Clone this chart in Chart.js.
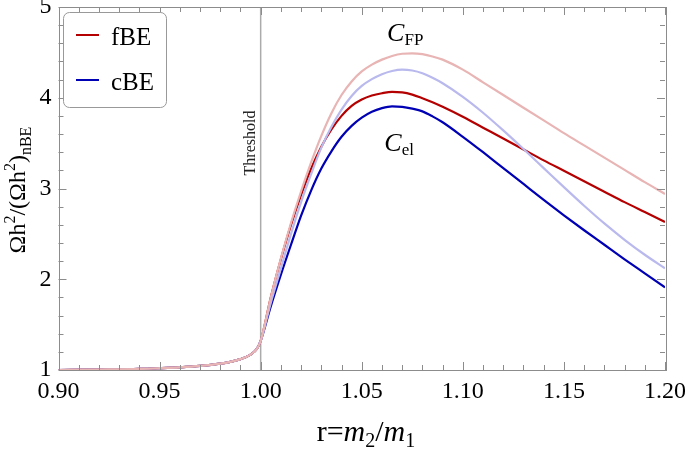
<!DOCTYPE html>
<html>
<head>
<meta charset="utf-8">
<script src="https://cdn.jsdelivr.net/npm/chart.js@4/dist/chart.umd.min.js"></script>
<style>
  html, body { margin: 0; padding: 0; background: #fff; }
  #wrap { width: 685px; height: 450px; }
</style>
</head>
<body>
<div id="wrap"><canvas id="relic"></canvas></div>
<script>
// r = m2/m1 sample points
var rVals = [0.90, 0.92, 0.94, 0.95, 0.96, 0.97, 0.98, 0.985, 0.99, 0.995, 0.998, 1.000,
  1.005, 1.01, 1.015, 1.02, 1.025, 1.03, 1.035, 1.04, 1.045, 1.05, 1.055, 1.06, 1.065,
  1.07, 1.075, 1.08, 1.085, 1.09, 1.10, 1.11, 1.12, 1.13, 1.14, 1.15, 1.16, 1.17, 1.18, 1.19, 1.20];

// below threshold all curves coincide
var belowThr = [1.00, 1.005, 1.012, 1.02, 1.03, 1.045, 1.07, 1.09, 1.12, 1.17, 1.23, 1.32];

// fBE, C_el
var fBE = belowThr.concat([1.80, 2.22, 2.60, 2.93, 3.22, 3.46, 3.65, 3.80, 3.91, 3.98, 4.025, 4.05, 4.065,
  4.06, 4.035, 3.995, 3.95, 3.90, 3.79, 3.67, 3.55, 3.43, 3.31, 3.195, 3.08, 2.965, 2.85, 2.74, 2.63]);
// cBE, C_el
var cBE = belowThr.concat([1.70, 2.05, 2.38, 2.70, 2.98, 3.22, 3.41, 3.57, 3.69, 3.78, 3.845, 3.885, 3.905,
  3.90, 3.88, 3.85, 3.795, 3.73, 3.57, 3.40, 3.225, 3.05, 2.875, 2.705, 2.54, 2.38, 2.22, 2.065, 1.91]);
// fBE, C_FP (faded)
var fBE_FP = belowThr.concat([1.80, 2.23, 2.62, 2.97, 3.29, 3.58, 3.83, 4.03, 4.18, 4.29, 4.365, 4.42, 4.46,
  4.485, 4.49, 4.48, 4.455, 4.42, 4.31, 4.17, 4.03, 3.89, 3.75, 3.61, 3.475, 3.34, 3.205, 3.07, 2.94]);
// cBE, C_FP (faded)
var cBE_FP = belowThr.concat([1.74, 2.12, 2.50, 2.85, 3.16, 3.45, 3.68, 3.87, 4.02, 4.13, 4.205, 4.26, 4.295,
  4.31, 4.30, 4.27, 4.22, 4.16, 4.01, 3.835, 3.64, 3.435, 3.225, 3.015, 2.81, 2.615, 2.435, 2.27, 2.12]);

var xTicks = [0.90, 0.95, 1.00, 1.05, 1.10, 1.15, 1.20];
var yTicks = [1, 2, 3, 4, 5];
var threshold = 1.00;

var RED = '#b40000', BLUE = '#0000b4', LRED = '#e8b4b4', LBLUE = '#b9b9ee';
var SERIF = '"Liberation Serif", "DejaVu Serif", serif';
Chart.defaults.font.family = SERIF;

function pts(ys) {
  return rVals.map(function (r, i) { return { x: r, y: ys[i] }; });
}

// draw a run of text pieces (for sub/superscripts), centred on x
function rich(ctx, parts, x, y) {
  var w = 0;
  parts.forEach(function (p) { ctx.font = p.f; w += ctx.measureText(p.t).width; });
  var cx = x - w / 2;
  ctx.textAlign = 'left';
  ctx.textBaseline = 'alphabetic';
  parts.forEach(function (p) {
    ctx.font = p.f;
    ctx.fillText(p.t, cx, y + (p.dy || 0));
    cx += ctx.measureText(p.t).width;
  });
}

var framePlugin = {
  id: 'frame',
  beforeDatasetsDraw: function (chart) {
    var ctx = chart.ctx, a = chart.chartArea;
    var xs = chart.scales.x;
    ctx.save();
    // threshold line
    var tx = xs.getPixelForValue(threshold);
    ctx.strokeStyle = '#ababab';
    ctx.lineWidth = 1.5;
    ctx.beginPath(); ctx.moveTo(tx, a.top); ctx.lineTo(tx, a.bottom); ctx.stroke();
    ctx.translate(tx - 10, 143);
    ctx.rotate(-Math.PI / 2);
    ctx.fillStyle = '#222';
    ctx.font = '16px ' + SERIF;
    ctx.textAlign = 'center';
    ctx.textBaseline = 'middle';
    ctx.fillText('Threshold', 0, 0);
    ctx.restore();
  },
  afterDatasetsDraw: function (chart) {
    var ctx = chart.ctx, a = chart.chartArea;
    var xs = chart.scales.x, ys = chart.scales.y;
    ctx.save();
    ctx.strokeStyle = '#8c8c8c';
    ctx.lineWidth = 1;
    ctx.strokeRect(Math.round(a.left) + 0.5, Math.round(a.top) + 0.5,
      Math.round(a.right - a.left), Math.round(a.bottom - a.top));
    ctx.beginPath();
    var i, v, p, len;
    for (i = 0; i <= 30; i++) {
      v = 0.90 + i * 0.01;
      p = Math.round(xs.getPixelForValue(v)) + 0.5;
      len = (i % 5 === 0) ? 8 : 5;
      ctx.moveTo(p, a.bottom); ctx.lineTo(p, a.bottom - len);
      ctx.moveTo(p, a.top); ctx.lineTo(p, a.top + len);
    }
    for (i = 0; i <= 20; i++) {
      v = 1 + i * 0.2;
      p = Math.round(ys.getPixelForValue(v)) + 0.5;
      len = (i % 5 === 0) ? 8 : 5;
      ctx.moveTo(a.left, p); ctx.lineTo(a.left + len, p);
      ctx.moveTo(a.right, p); ctx.lineTo(a.right - len, p);
    }
    ctx.stroke();

    // curve labels
    ctx.fillStyle = '#000';
    rich(ctx, [{ t: 'C', f: 'italic 26px ' + SERIF }, { t: 'FP', f: '17px ' + SERIF, dy: 4 }],
      xs.getPixelForValue(1.0715), 41);
    rich(ctx, [{ t: 'C', f: 'italic 26px ' + SERIF }, { t: 'el', f: '17px ' + SERIF, dy: 4 }],
      xs.getPixelForValue(1.0685), 151);

    // legend box
    var lx = 63, ly = 12, lw = 103, lh = 95, rr = 6;
    ctx.fillStyle = '#fff';
    ctx.strokeStyle = '#999';
    ctx.lineWidth = 1;
    ctx.beginPath();
    ctx.roundRect(lx + 0.5, ly + 0.5, lw, lh, rr);
    ctx.fill(); ctx.stroke();
    var items = [chart.data.datasets[2], chart.data.datasets[3]];
    items.forEach(function (ds, k) {
      var yy = 35 + k * 45;
      ctx.strokeStyle = ds.borderColor;
      ctx.lineWidth = 2;
      ctx.beginPath(); ctx.moveTo(76, yy); ctx.lineTo(99, yy); ctx.stroke();
      ctx.fillStyle = '#000';
      ctx.font = '25px ' + SERIF;
      ctx.textAlign = 'left';
      ctx.textBaseline = 'middle';
      ctx.fillText(ds.label, 111, yy + 3);
    });

    // axis titles
    ctx.fillStyle = '#000';
    rich(ctx, [
      { t: 'r=', f: '30px ' + SERIF },
      { t: 'm', f: 'italic 30px ' + SERIF },
      { t: '2', f: '20px ' + SERIF, dy: 6 },
      { t: '/', f: '30px ' + SERIF },
      { t: 'm', f: 'italic 30px ' + SERIF },
      { t: '1', f: '20px ' + SERIF, dy: 6 }
    ], 366, 441);
    ctx.save();
    ctx.translate(25, 190);
    ctx.rotate(-Math.PI / 2);
    rich(ctx, [
      { t: '\u03A9h', f: '24px ' + SERIF },
      { t: '2', f: '16px ' + SERIF, dy: -10 },
      { t: '/(\u03A9h', f: '24px ' + SERIF },
      { t: '2', f: '16px ' + SERIF, dy: -10 },
      { t: ')', f: '24px ' + SERIF },
      { t: 'nBE', f: '16px ' + SERIF, dy: 6 }
    ], 0, 0);
    ctx.restore();
    ctx.restore();
  }
};

function line(label, ys, color) {
  return {
    label: label,
    data: pts(ys),
    borderColor: color,
    backgroundColor: color,
    borderWidth: 2.2,
    pointRadius: 0,
    cubicInterpolationMode: 'monotone',
    fill: false
  };
}

var relic = new Chart(document.getElementById('relic'), {
  type: 'line',
  data: {
    datasets: [
      line('fBE (FP)', fBE_FP, LRED),
      line('cBE (FP)', cBE_FP, LBLUE),
      line('fBE', fBE, RED),
      line('cBE', cBE, BLUE)
    ]
  },
  options: {
    responsive: true,
    maintainAspectRatio: false,
    animation: false,
    layout: { padding: { top: 7, right: 20, left: 0, bottom: 0 } },
    plugins: {
      legend: { display: false }, // drawn inside the frame by the plugin
      tooltip: { enabled: false }
    },
    scales: {
      x: {
        type: 'linear',
        min: 0.90, max: 1.20,
        grid: { display: false, drawTicks: false },
        border: { display: false },
        afterBuildTicks: function (s) { s.ticks = xTicks.map(function (v) { return { value: v }; }); },
        ticks: {
          color: '#000',
          font: { family: SERIF, size: 24 },
          padding: 7,
          maxRotation: 0,
          callback: function (v) { return v.toFixed(2); }
        },
        afterFit: function (s) { s.height = 80; s.paddingLeft = 0; s.paddingRight = 0; }
      },
      y: {
        min: 1, max: 5,
        grid: { display: false, drawTicks: false },
        border: { display: false },
        afterBuildTicks: function (s) { s.ticks = yTicks.map(function (v) { return { value: v }; }); },
        ticks: {
          color: '#000',
          font: { family: SERIF, size: 24 },
          padding: 7
        },
        afterFit: function (s) { s.width = 58.5; s.paddingTop = 0; s.paddingBottom = 0; }
      }
    }
  },
  plugins: [framePlugin]
});
</script>
</body>
</html>
